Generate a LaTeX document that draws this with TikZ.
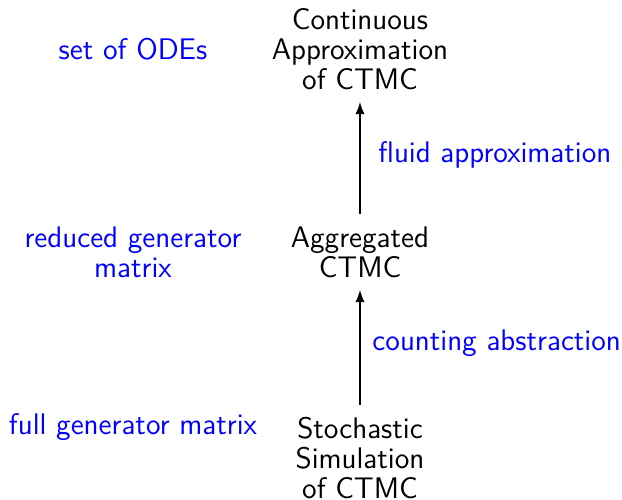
\documentclass[tikz,border=0pt]{standalone}
\usetikzlibrary{arrows}
\begin{document}
\begin{tikzpicture}[x=0.4132pt,y=-0.4132pt,
  txt/.style={font=\sffamily\fontsize{12.3}{12.3}\selectfont, align=center},
  model/.style={txt, inner sep=5pt},
  note/.style={txt, text=blue, inner sep=0pt},
  step arrow/.style={-latex, line width=0.75pt}]
\useasboundingbox (0,0) rectangle (622,500);
% levels of abstraction
\node[model] (ode) at (360,49) {Continuous\\Approximation\\of CTMC};
\node[model] (agg) at (360,252) {Aggregated\\CTMC};
\node[model] (sim) at (360,458) {Stochastic\\Simulation\\of CTMC};
% representation used at each level
\node[note] (odeNote) at (133,49) {set of ODEs};
\node[note] (aggNote) at (133,252) {reduced generator\\matrix};
\node[note] (simNote) at (133,427) {full generator matrix};
% transformations between levels
\draw[step arrow] (sim) -- (agg);
\draw[step arrow] (agg) -- (ode);
\node[note, anchor=west] (fluid) at (378,155) {fluid approximation};
\node[note, anchor=west] (count) at (372,343) {counting abstraction};
\end{tikzpicture}
\end{document}
